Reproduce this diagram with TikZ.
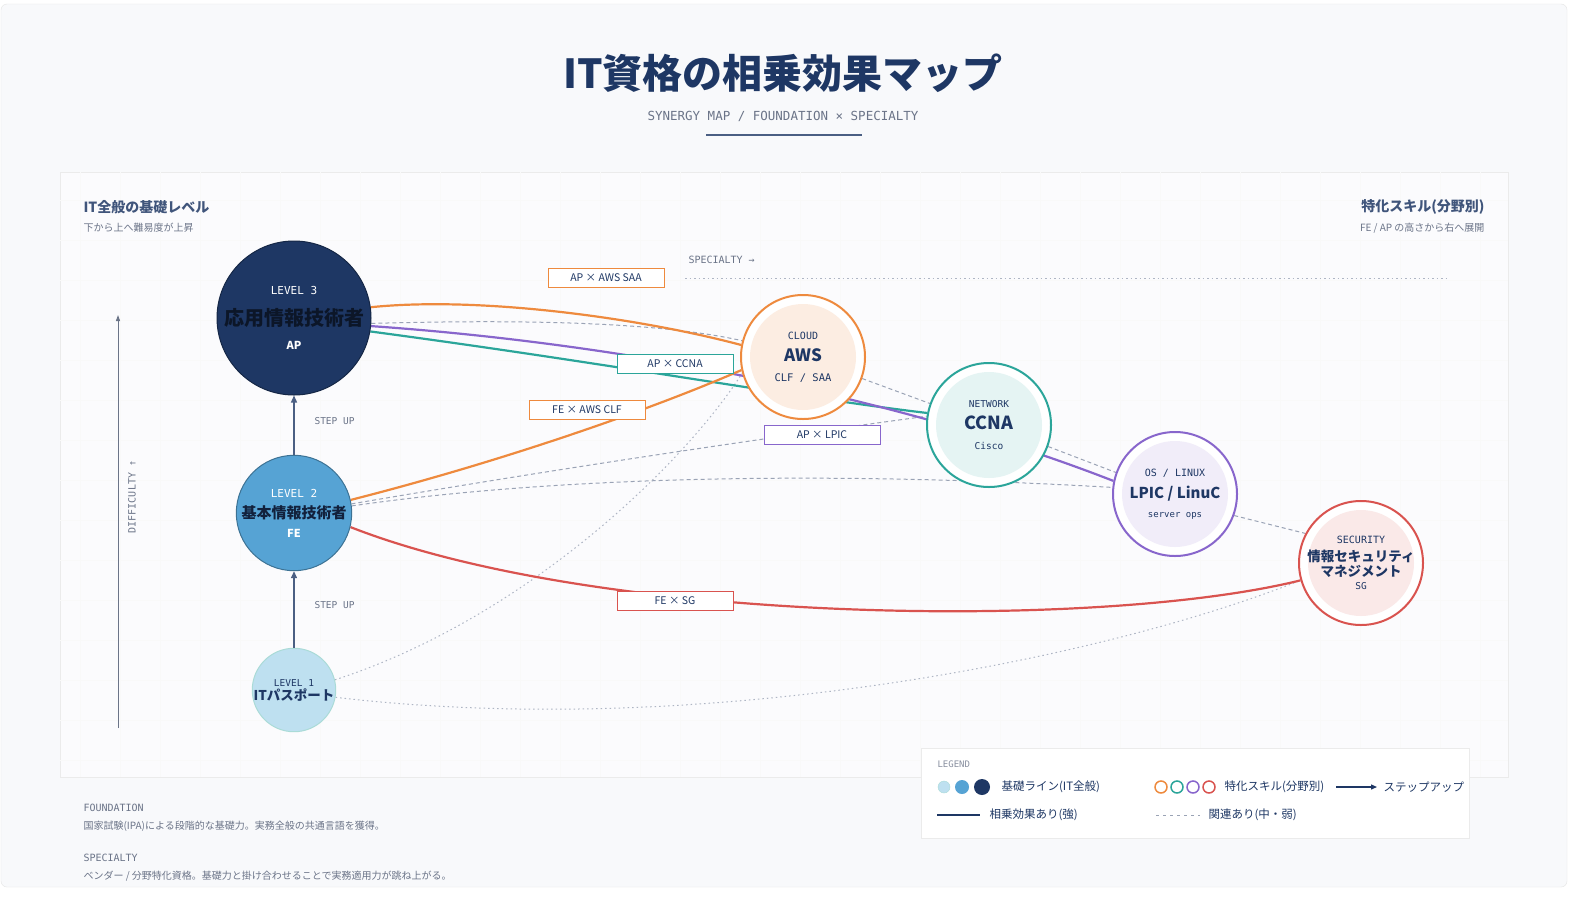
\documentclass[tikz,border=0pt]{standalone}
\usepackage{fontspec}
\setmainfont{Noto Sans CJK JP}
\newfontfamily\monof{DejaVu Sans Mono}
\usetikzlibrary{arrows.meta,backgrounds}
\definecolor{navy}{HTML}{1E3764}
\definecolor{fe}{HTML}{56A3D4}
\definecolor{itp}{HTML}{BEE0F0}
\definecolor{org}{HTML}{EE8A3E}
\definecolor{teal}{HTML}{2BA59A}
\definecolor{purp}{HTML}{8866CC}
\definecolor{redd}{HTML}{D9534F}
\definecolor{gtxt}{HTML}{6B7488}
\definecolor{dashc}{HTML}{9AA3B5}
\definecolor{bg}{HTML}{F8F9FB}
\tikzset{
 fs/.style={font=\fontsize{#1}{#1}\selectfont},
 mono/.style={font=\monof\fontsize{#1}{#1}\selectfont, text=gtxt},
 ring/.style 2 args={circle, minimum size=124pt, draw=#1, line width=2pt, fill=white, inner sep=0pt, align=center, text=navy,
   path picture={\fill[#2] (path picture bounding box.center) circle (53pt);}},
 lab/.style={draw=#1, fill=white, line width=1pt, minimum width=116pt, minimum height=19pt, inner sep=0pt, font=\fontsize{10.5}{10.5}\selectfont, text=navy},
 strong/.style={line width=2.2pt, draw=#1},
 weak/.style={draw=dashc, line width=1pt, dash pattern=on 4pt off 3pt},
 dotl/.style={draw=dashc!80, line width=1pt, dash pattern=on 1.5pt off 3pt},
 stepup/.style={-{Triangle[length=7pt,width=6pt]}, navy!80, line width=1.3pt},
}
\begin{document}
\begin{tikzpicture}[x=1pt,y=-1pt]
\useasboundingbox (0,0) rectangle (1585,900);
\begin{scope}[on background layer]
\fill[white] (0,0) rectangle (1585,900);
\draw[fill=bg, draw=black!10, rounded corners=6pt] (1,4) rectangle (1567,887);
\draw[fill=bg!60!white, draw=black!8] (60,172) rectangle (1508,777);
\clip (60,172) rectangle (1508,777);
\draw[black!2.5, step=40pt] (60,172) grid (1508,777);
\end{scope}
% title
\node[text=navy, font=\bfseries\fontsize{40}{40}\selectfont] (title) at (783,73) {IT資格の相乗効果マップ};
\node[mono=12.5] (sub) at (783,116) {SYNERGY MAP / FOUNDATION × SPECIALTY};
\coordinate (ul0) at (706,135); \coordinate (ul1) at (862,135);
\draw[navy!80, line width=1.3pt] (ul0) -- (ul1);
% corner texts
\node[anchor=west, text=navy!85, font=\bfseries\fontsize{14}{14}\selectfont] (lt) at (80,207) {IT全般の基礎レベル};
\node[anchor=west, text=gtxt, fs=10] (lt2) at (80,228) {下から上へ難易度が上昇};
\node[anchor=east, text=navy!85, font=\bfseries\fontsize{14}{14}\selectfont] (rt) at (1488,207) {特化スキル(分野別)};
\node[anchor=east, text=gtxt, fs=10] (rt2) at (1488,228) {FE / AP の高さから右へ展開};
% axis
\coordinate (ax0) at (118,728); \coordinate (ax1) at (118,315);
\draw[-{Triangle[length=6pt,width=4pt]}, gtxt, line width=1pt] (ax0) -- (ax1);
\node[mono=10, rotate=90] (diff) at (132,497) {DIFFICULTY ↑};
\node[mono=10, anchor=west] (spec) at (685,260) {SPECIALTY →};
\coordinate (sp0) at (685,278); \coordinate (sp1) at (1450,278);
\draw[dotl] (sp0) -- (sp1);
% foundation nodes
\node[circle, minimum size=154pt, fill=navy, draw=navy!70!black, line width=1pt, inner sep=0pt, align=center, text=white] (ap) at (294,318)
 {{\monof\fontsize{11}{11}\selectfont LEVEL 3}\\[12pt]{\color{navy!40!black}\bfseries\fontsize{20}{22}\selectfont 応用情報技術者}\\[12pt]{\bfseries\fontsize{11}{11}\selectfont AP}};
\node[circle, minimum size=114pt, fill=fe, draw=fe!70!black, line width=1pt, inner sep=0pt, align=center, text=white] (fe) at (294,513)
 {{\monof\fontsize{11}{11}\selectfont LEVEL 2}\\[7pt]{\color{navy!60!black}\bfseries\fontsize{15}{17}\selectfont 基本情報技術者}\\[7pt]{\bfseries\fontsize{11}{11}\selectfont FE}};
\node[circle, minimum size=82pt, fill=itp, draw=teal!40, line width=1pt, inner sep=0pt, align=center, text=navy] (it) at (294,690)
 {{\monof\fontsize{9.5}{10}\selectfont LEVEL 1}\\[2pt]{\bfseries\fontsize{13.5}{15}\selectfont ITパスポート}};
% specialty nodes
\node[ring={org}{org!15}] (aws) at (803,357)
 {{\monof\fontsize{10}{10}\selectfont CLOUD}\\[8pt]{\bfseries\fontsize{17}{17}\selectfont AWS}\\[8pt]{\monof\fontsize{10.5}{10}\selectfont CLF / SAA}};
\node[ring={teal}{teal!12}] (ccna) at (989,425)
 {{\monof\fontsize{9.5}{10}\selectfont NETWORK}\\[8pt]{\bfseries\fontsize{18}{18}\selectfont CCNA}\\[8pt]{\monof\fontsize{9.5}{10}\selectfont Cisco}};
\node[ring={purp}{purp!12}] (lpic) at (1175,494)
 {{\monof\fontsize{10}{10}\selectfont OS / LINUX}\\[8pt]{\bfseries\fontsize{15}{15}\selectfont LPIC / LinuC}\\[7pt]{\monof\fontsize{9}{10}\selectfont server ops}};
\node[ring={redd}{redd!13}] (sg) at (1361,563)
 {{\monof\fontsize{10}{10}\selectfont SECURITY}\\[6pt]{\bfseries\fontsize{13.5}{16}\selectfont 情報セキュリティ}\\[1pt]{\bfseries\fontsize{13.5}{16}\selectfont マネジメント}\\[1pt]{\monof\fontsize{9.5}{10}\selectfont SG}};
% step up
\draw[stepup] (fe.north) -- (ap.south);
\draw[stepup] (it.north) -- (fe.south);
\node[mono=9.5, anchor=west] (su1) at (311,421) {STEP UP};
\node[mono=9.5, anchor=west] (su2) at (311,605) {STEP UP};
% connectors
\begin{scope}[on background layer]
\draw[dotl] (it.14) .. controls (520,620) and (680,470) .. (aws.195);
\draw[dotl] (it.-10) .. controls (700,740) and (1100,660) .. (sg.196);
\draw[weak] (ap.-4) .. controls (500,320) and (650,320) .. (aws.165);
\draw[weak] (aws.-20) -- (ccna.160);
\draw[weak] (ccna.-20) -- (lpic.160);
\draw[weak] (lpic.-20) -- (sg.152);
\draw[weak] (fe.9) .. controls (550,470) and (750,440) .. (ccna.172);
\draw[weak] (fe.7) .. controls (600,470) and (900,475) .. (lpic.174);
\draw[strong=org] (ap.8) .. controls (480,296) and (640,318) .. (aws.169);
\draw[strong=teal] (ap.-10) .. controls (600,362) and (800,398) .. (ccna.169);
\draw[strong=purp] (ap.-6) .. controls (600,342) and (880,390) .. (lpic.168);
\draw[strong=org] (fe.13) .. controls (500,462) and (650,410) .. (aws.192);
\draw[strong=redd] (fe.-14) .. controls (600,625) and (1100,630) .. (sg.196);
\end{scope}
% labels
\node[lab=org] (l1) at (606,278) {AP × AWS SAA};
\node[lab=teal] (l2) at (675,364) {AP × CCNA};
\node[lab=org] (l3) at (587,410) {FE × AWS CLF};
\node[lab=purp] (l4) at (822,435) {AP × LPIC};
\node[lab=redd] (l5) at (675,601) {FE × SG};
% bottom notes
\node[mono=10, anchor=west] (fn) at (80,808) {FOUNDATION};
\node[anchor=west, text=gtxt, fs=10] (fn2) at (80,826) {国家試験(IPA)による段階的な基礎力。実務全般の共通言語を獲得。};
\node[mono=10, anchor=west] (sn) at (80,858) {SPECIALTY};
\node[anchor=west, text=gtxt, fs=10] (sn2) at (80,876) {ベンダー / 分野特化資格。基礎力と掛け合わせることで実務適用力が跳ね上がる。};
% legend
\draw[fill=white, draw=black!8] (921,748) rectangle (1469,838);
\node[mono=9, anchor=west, text=gtxt!80] (lg) at (934,764) {LEGEND};
\node[circle, fill=itp, draw=teal!40, minimum size=12pt, inner sep=0pt] (c1) at (944,787) {};
\node[circle, fill=fe, minimum size=14pt, inner sep=0pt] (c2) at (962,787) {};
\node[circle, fill=navy, minimum size=16pt, inner sep=0pt] (c3) at (982,787) {};
\node[anchor=west, text=navy, fs=11.5] (t1) at (998,787) {基礎ライン(IT全般)};
\node[circle, draw=org, line width=1.5pt, minimum size=12pt, inner sep=0pt] (r1) at (1161,787) {};
\node[circle, draw=teal, line width=1.5pt, minimum size=12pt, inner sep=0pt] (r2) at (1177,787) {};
\node[circle, draw=purp, line width=1.5pt, minimum size=12pt, inner sep=0pt] (r3) at (1193,787) {};
\node[circle, draw=redd, line width=1.5pt, minimum size=12pt, inner sep=0pt] (r4) at (1209,787) {};
\node[anchor=west, text=navy, fs=11.5] (t2) at (1221,787) {特化スキル(分野別)};
\coordinate (la0) at (1336,787); \coordinate (la1) at (1377,787);
\draw[-{Triangle[length=6pt,width=5pt]}, navy, line width=1.3pt] (la0) -- (la1);
\node[anchor=west, text=navy, fs=11.5] (t3) at (1380,787) {ステップアップ};
\coordinate (ls0) at (937,815); \coordinate (ls1) at (980,815);
\draw[navy, line width=2pt] (ls0) -- (ls1);
\node[anchor=west, text=navy, fs=11.5] (t4) at (986,815) {相乗効果あり(強)};
\coordinate (ld0) at (1156,815); \coordinate (ld1) at (1200,815);
\draw[dashc, line width=1pt, dash pattern=on 3pt off 4pt] (ld0) -- (ld1);
\node[anchor=west, text=navy, fs=11.5] (t5) at (1205,815) {関連あり(中・弱)};
\end{tikzpicture}
\end{document}
